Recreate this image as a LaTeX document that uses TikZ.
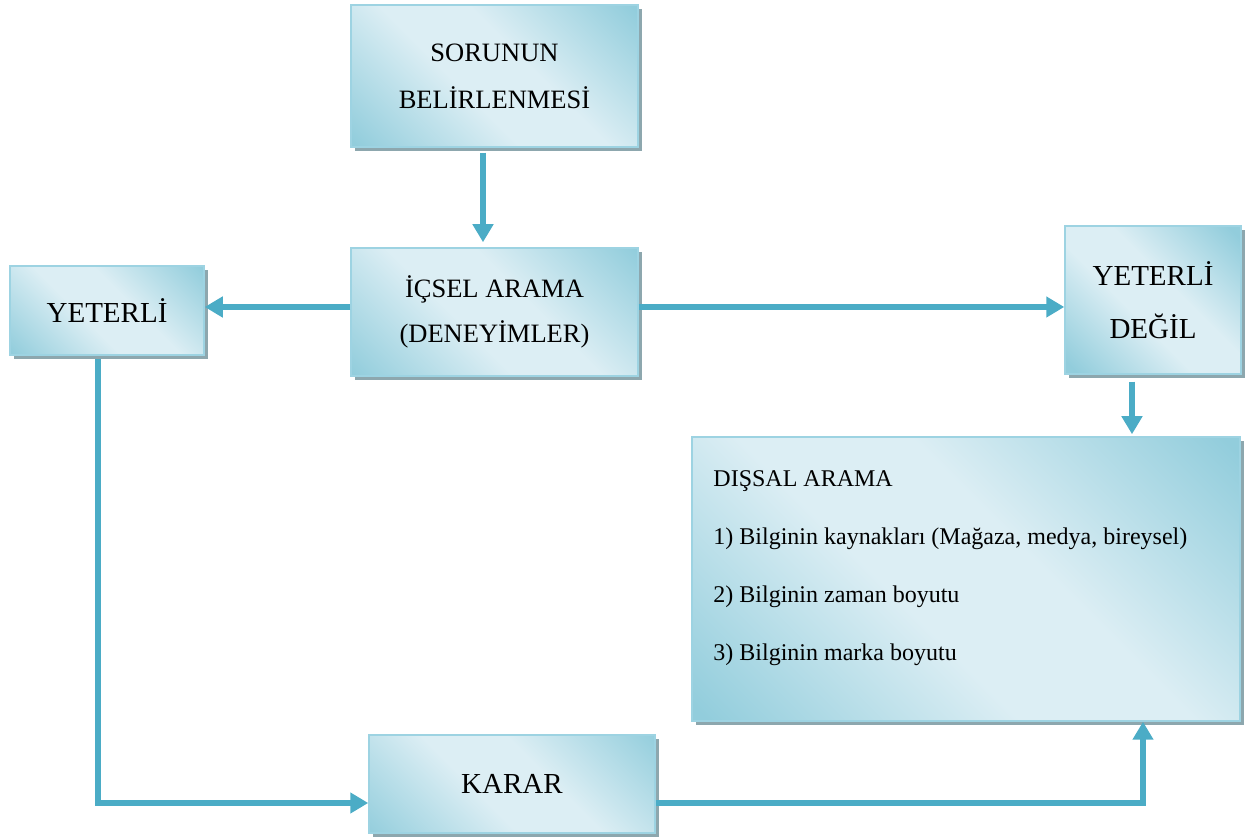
\documentclass[tikz,border=0pt]{standalone}
\usepackage{fontspec}
\setmainfont{Liberation Serif}
\usetikzlibrary{arrows.meta,shadows,calc}
\definecolor{dk}{HTML}{92CDDC}
\definecolor{lt}{HTML}{DCEEF4}
\definecolor{bd}{HTML}{9DD3E2}
\definecolor{sh}{HTML}{8DA7AE}
\definecolor{ar}{HTML}{4BACC6}
\pgfdeclareverticalshading{boxshade}{100bp}{color(0bp)=(dk); color(27bp)=(dk); color(45bp)=(lt); color(55bp)=(lt); color(73bp)=(dk); color(100bp)=(dk)}
\tikzset{
  box/.style={draw=bd, line width=1.5pt, fill=lt,
    drop shadow={shadow xshift=4pt, shadow yshift=-4pt, fill=sh, opacity=1},
    path picture={\shade[shading=boxshade, shading angle=-45]
      let \p1=(path picture bounding box.north east),
          \p2=(path picture bounding box.south west),
          \n1={veclen(\x1-\x2,\y1-\y2)/2} in
      (path picture bounding box.center) circle[radius=\n1];},
    inner sep=0pt, align=center, text=black},
  arr/.style={draw=ar, line width=6pt, -{Triangle[width=20pt,length=18pt]}},
}
\begin{document}
\begin{tikzpicture}[x=1pt,y=1pt]
\useasboundingbox (0,0) rectangle (1248,840);
\node[box, minimum width=287pt, minimum height=142pt, font=\fontsize{26.5}{47}\selectfont] (sorunun) at (494.5,764) {SORUNUN\\BELİRLENMESİ};
\node[box, minimum width=287pt, minimum height=128pt, font=\fontsize{26.5}{45}\selectfont] (icsel) at (494.5,528) {İÇSEL ARAMA\\(DENEYİMLER)};
\node[box, minimum width=194pt, minimum height=89pt, font=\fontsize{29}{35}\selectfont] (yeterli) at (107,529.5) {YETERLİ};
\node[box, minimum width=176pt, minimum height=148pt, font=\fontsize{29}{53}\selectfont] (yd) at (1153,540) {YETERLİ\\DEĞİL};
\node[box, minimum width=548pt, minimum height=284pt] (dissal) at (966,261) {};
\node[anchor=north west, inner sep=0pt, align=left, font=\fontsize{24}{58}\selectfont] (dtext) at ([xshift=22pt,yshift=-34pt]dissal.north west)
  {DIŞSAL ARAMA\\1) Bilginin kaynakları (Mağaza, medya, bireysel)\\2) Bilginin zaman boyutu\\3) Bilginin marka boyutu};
\node[box, minimum width=286pt, minimum height=98pt, font=\fontsize{29}{35}\selectfont] (karar) at (512,56) {KARAR};
% connectors
\draw[arr] ([xshift=-11.5pt,yshift=-5pt]sorunun.south) -- ([xshift=-11.5pt,yshift=5pt]icsel.north);
\draw[arr] ([yshift=5pt]icsel.west) -- ([yshift=5pt]icsel.west -| yeterli.east);
\draw[arr] ([yshift=5pt]icsel.east) -- ([yshift=5pt]icsel.east -| yd.west);
\draw[arr] ([xshift=-21pt,yshift=-7pt]yd.south) -- ([xshift=-21pt,yshift=2pt]yd.south |- dissal.north);
\draw[arr] ([xshift=-9pt,yshift=-3pt]yeterli.south) |- ([yshift=-19pt]karar.west);
\draw[arr] ([yshift=-19pt]karar.east) -| ([xshift=177pt]dissal.south);
\end{tikzpicture}
\end{document}
